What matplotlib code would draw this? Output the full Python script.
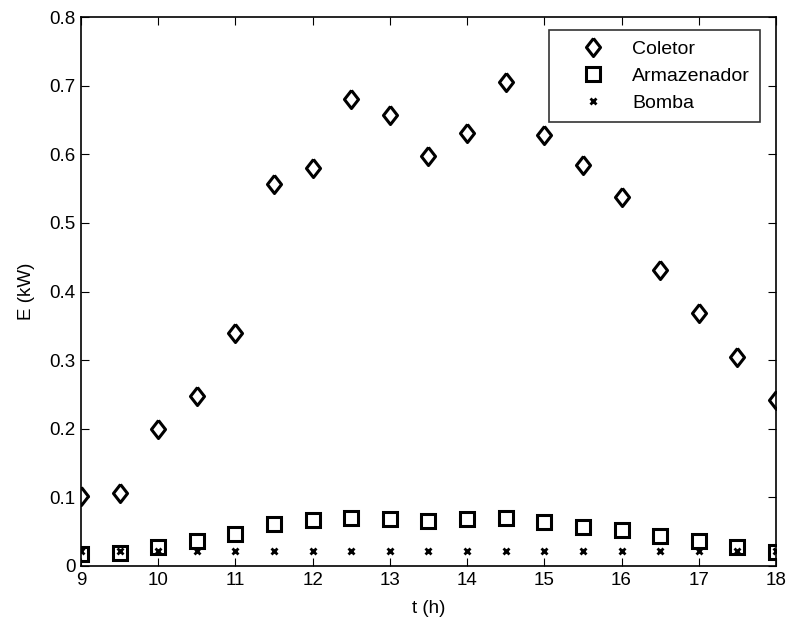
import matplotlib
matplotlib.use("Agg")
import matplotlib.pyplot as plt

# data
t = [9, 9.5, 10, 10.5, 11, 11.5, 12, 12.5, 13, 13.5,
     14, 14.5, 15, 15.5, 16, 16.5, 17, 17.5, 18]
coletor = [0.102, 0.107, 0.200, 0.247, 0.340, 0.556, 0.580, 0.680, 0.657, 0.598,
           0.631, 0.706, 0.628, 0.584, 0.537, 0.432, 0.369, 0.305, 0.242]
armazenador = [0.017, 0.019, 0.028, 0.036, 0.047, 0.061, 0.067, 0.070, 0.068, 0.066,
               0.068, 0.070, 0.064, 0.057, 0.052, 0.043, 0.036, 0.028, 0.021]
bomba = [0.022] * len(t)

plt.rcParams['font.family'] = ['Liberation Sans', 'DejaVu Sans']

# matlab style diamond, a bit taller than wide
diamond = [(0, 1), (0.78, 0), (0, -1), (-0.78, 0), (0, 1)]

fig = plt.figure(figsize=(7.91, 6.25), dpi=100)
ax = fig.add_axes([0.1024, 0.0944, 0.8786, 0.8784])

ax.plot(t, coletor, linestyle='none', marker=diamond, markersize=13, markerfacecolor='white',
        markeredgecolor='black', markeredgewidth=2.2, label='Coletor')
ax.plot(t, armazenador, linestyle='none', marker='s', markersize=10, markerfacecolor='none',
        markeredgecolor='black', markeredgewidth=2.2, label='Armazenador')
ax.plot(t, bomba, linestyle='none', marker='x', markersize=5, color='black',
        markeredgewidth=2, label='Bomba')

ax.set_xlim(9, 18)
ax.set_ylim(0, 0.8)
ax.set_xticks(range(9, 19))
ax.set_yticks([0, 0.1, 0.2, 0.3, 0.4, 0.5, 0.6, 0.7, 0.8])
ax.set_yticklabels(['0', '0.1', '0.2', '0.3', '0.4', '0.5', '0.6', '0.7', '0.8'])
ax.tick_params(direction='in', top=True, right=True, labelsize=13.5, length=6, pad=4)
for s in ax.spines.values():
    s.set_linewidth(1.2)

ax.set_xlabel('t (h)', fontsize=13.5, labelpad=8)
ax.set_ylabel('E (kW)', fontsize=13.5, labelpad=10)

leg = ax.legend(loc='upper right', bbox_to_anchor=(0.977, 0.976), fontsize=14,
                frameon=True, fancybox=False, edgecolor='black', borderaxespad=0,
                handlelength=3.5, handletextpad=0.3, labelspacing=0.5, borderpad=0.5)
leg.get_frame().set_linewidth(1.2)

fig.savefig("out.png", dpi=100)
